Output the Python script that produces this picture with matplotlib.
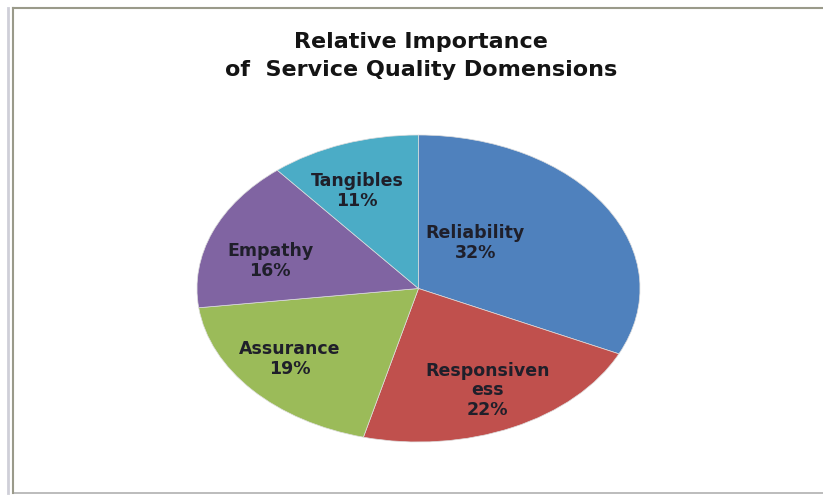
import matplotlib
matplotlib.use("Agg")
import matplotlib.pyplot as plt
from matplotlib.lines import Line2D

categories = ["Reliability", "Responsiveness", "Assurance", "Empathy", "Tangibles"]
values = [32, 22, 19, 16, 11]
label_texts = ["Reliability\n32%", "Responsiven\ness\n22%", "Assurance\n19%", "Empathy\n16%", "Tangibles\n11%"]
colors = ["#4F81BD", "#C0504D", "#9BBB59", "#8064A2", "#4BACC6"]
# label positions in axes fraction (layout)
label_pos = [(0.628, 0.648), (0.655, 0.169), (0.21, 0.27), (0.165, 0.59), (0.361, 0.818)]

W, H = 823, 495
fig = plt.figure(figsize=(W / 100, H / 100), dpi=100)
fig.patch.set_facecolor("white")

# pie axes in pixel coordinates
left, right, top, bottom = 197, 640, 135, 442
ax = fig.add_axes([left / W, 1 - bottom / H, (right - left) / W, (bottom - top) / H])
ax.pie(values, colors=colors, startangle=90, counterclock=False,
       wedgeprops=dict(linewidth=0.5, edgecolor="#dddddd"))
ax.set_aspect("auto")
ax.set_xlim(-1, 1)
ax.set_ylim(-1, 1)
ax.axis("off")

font = ["DejaVu Sans"]
for txt, (fx, fy) in zip(label_texts, label_pos):
    ax.text(fx, fy, txt, transform=ax.transAxes, ha="center", va="center",
            fontsize=12.5, fontweight="bold", family=font, color="#1f1f2a",
            linespacing=1.1)

fig.text(421 / W, 1 - 42 / H, "Relative Importance", ha="center", va="center",
         fontsize=16, fontweight="bold", family=font, color="#141414")
fig.text(421 / W, 1 - 70 / H, "of  Service Quality Domensions", ha="center", va="center",
         fontsize=16, fontweight="bold", family=font, color="#141414")

# outer frame lines
fx0 = 13 / W
fy_top = 1 - 8 / H
fy_bot = 1 - 493 / H
fig.add_artist(Line2D([fx0, 1], [fy_top, fy_top], transform=fig.transFigure, color="#9a9a8a", lw=1.5))
fig.add_artist(Line2D([fx0, 1], [fy_bot, fy_bot], transform=fig.transFigure, color="#b0b0b0", lw=1.2))
fig.add_artist(Line2D([fx0, fx0], [fy_bot, fy_top], transform=fig.transFigure, color="#9a9a8a", lw=1.5))
fig.add_artist(Line2D([fx0 - 5 / W, fx0 - 5 / W], [fy_bot, fy_top], transform=fig.transFigure, color="#cfcfd8", lw=2))

fig.savefig("out.png", dpi=100)
